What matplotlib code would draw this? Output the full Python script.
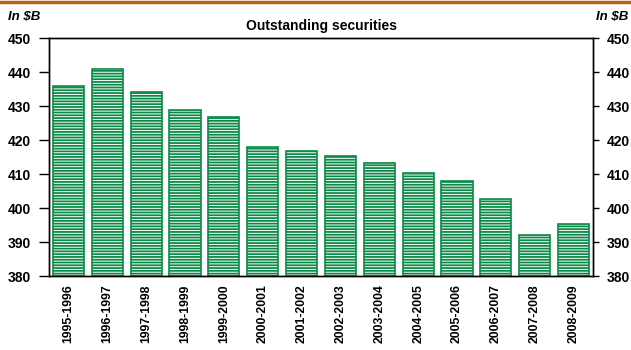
import matplotlib.pyplot as plt
import numpy as np

plt.rcParams['font.family'] = ['Liberation Sans', 'DejaVu Sans']
plt.rcParams['hatch.linewidth'] = 1.3
plt.rcParams['hatch.color'] = '#0a8a46'

# data
years = ["1995-1996", "1996-1997", "1997-1998", "1998-1999", "1999-2000",
         "2000-2001", "2001-2002", "2002-2003", "2003-2004", "2004-2005",
         "2005-2006", "2006-2007", "2007-2008", "2008-2009"]
values = [435.8, 440.8, 434.2, 428.8, 426.9, 417.8, 416.8,
          415.4, 413.3, 410.4, 407.9, 402.6, 392.2, 395.2]
yticks = [380, 390, 400, 410, 420, 430, 440, 450]

fig = plt.figure(figsize=(6.31, 3.5), dpi=100)
ax = fig.add_axes([0.0777, 0.2114, 0.8621, 0.68])

x = np.arange(len(years))
ax.bar(x, np.array(values) - 380, bottom=380, width=0.8, color='white',
       edgecolor='#0a8a46', linewidth=1.2, hatch='------')

ax.set_xlim(-0.5, len(years) - 0.5)
ax.set_ylim(380, 450)
ax.set_yticks(yticks)
ax.set_yticklabels([str(t) for t in yticks], fontsize=10, fontweight='bold')
ax.set_xticks(x)
ax.set_xticklabels(years, rotation=90, fontsize=8.8, fontweight='bold')
ax.tick_params(axis='x', length=0, pad=6)
ax.tick_params(axis='y', length=7, width=1, direction='out', pad=6)

ax2 = ax.twinx()
ax2.set_ylim(380, 450)
ax2.set_yticks(yticks)
ax2.set_yticklabels([str(t) for t in yticks], fontsize=10, fontweight='bold')
ax2.tick_params(axis='y', length=4, width=1, direction='out', pad=6)

for a in (ax, ax2):
    for s in a.spines.values():
        s.set_linewidth(1.0)
        s.set_color('black')

ax.set_title("Outstanding securities", fontsize=10, fontweight='bold', pad=6)

fig.text(8 / 631, 1 - 17 / 350, "In $B", fontsize=9.5, fontweight='bold',
         style='italic', va='center', ha='left')
fig.text(628 / 631, 1 - 17 / 350, "In $B", fontsize=9.5, fontweight='bold',
         style='italic', va='center', ha='right')

# orange rule at the very top
fig.add_artist(plt.Line2D([0, 1], [1 - 1.5 / 350, 1 - 1.5 / 350],
                          transform=fig.transFigure, color='#b8621b', linewidth=2.5))

fig.savefig("out.png", dpi=100, facecolor='white')
